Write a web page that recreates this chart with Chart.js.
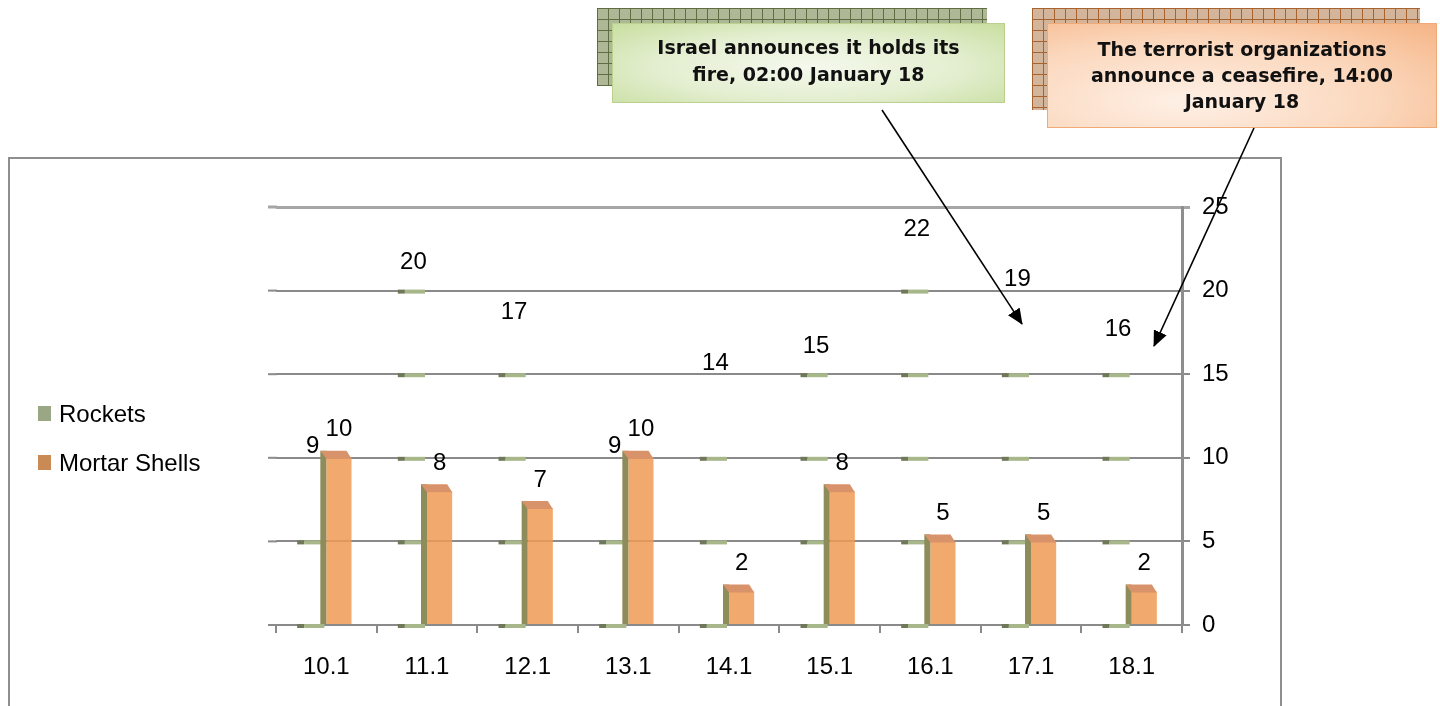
<!DOCTYPE html>
<html>
<head>
<meta charset="utf-8">
<script src="https://cdn.jsdelivr.net/npm/chart.js@4.4.1/dist/chart.umd.min.js"></script>
<style>
body{margin:0;width:1440px;height:706px;overflow:hidden;background:#fff;font-family:"Liberation Sans",Arial,sans-serif;}
#page{position:relative;width:1440px;height:706px;}
#c{position:absolute;left:0;top:0;}
.frame{position:absolute;left:8px;top:157px;width:1274px;height:620px;border:2px solid #8e8e8e;box-sizing:border-box;}
.legend{position:absolute;left:38px;top:389px;font-size:24px;color:#000;}
.legend div{height:49px;display:flex;align-items:center;}
.legend span.sw{display:inline-block;width:13px;height:15px;margin-right:8px;}
.shadow{position:absolute;}
.shadow.g{left:597px;top:8px;width:390px;height:78px;
  background:linear-gradient(#5f6d42 1px,transparent 1px) 0 0/11px 11px,linear-gradient(90deg,#5f6d42 1px,transparent 1px) 0 0/11px 11px,#aeb896;}
.shadow.o{left:1032px;top:8px;width:388px;height:102px;
  background:linear-gradient(#a8622e 1px,transparent 1px) 0 0/11px 11px,linear-gradient(90deg,#a8622e 1px,transparent 1px) 0 0/11px 11px,#d2b59a;}
.note{position:absolute;box-sizing:border-box;display:flex;align-items:center;justify-content:center;text-align:center;
  font-family:"DejaVu Sans",Verdana,sans-serif;font-weight:bold;font-size:19px;line-height:27px;color:#111;}
.note.g{left:612px;top:23px;width:393px;height:80px;border:1px solid #b9d08f;
  background:radial-gradient(ellipse at 50% 55%,#f5f9ee 0%,#e3eecf 55%,#c8de9f 100%);padding-bottom:4px;}
.note.o{left:1047px;top:23px;width:390px;height:105px;border:1px solid #f0aa78;
  background:radial-gradient(ellipse at 35% 75%,#fef0e6 0%,#fbd7bc 55%,#f5b485 100%);padding-bottom:2px;line-height:26px;}
svg{position:absolute;left:0;top:0;}
</style>
</head>
<body>
<div id="page">
  <canvas id="c" width="1440" height="706"></canvas>
  <div class="frame"></div>
  <div class="legend" id="legend"></div>
  <div class="shadow g"></div>
  <div class="note g">Israel announces it holds its<br>fire, 02:00 January 18</div>
  <div class="shadow o"></div>
  <div class="note o">The terrorist organizations<br>announce a ceasefire, 14:00<br>January 18</div>
  <svg width="1440" height="706">
    <defs>
      <marker id="ah" markerWidth="16" markerHeight="14" refX="15" refY="7" orient="auto" markerUnits="userSpaceOnUse" viewBox="0 0 16 14">
        <path d="M0,0 L16,7 L0,14 z" fill="#000"/>
      </marker>
    </defs>
    <line x1="882" y1="110" x2="1022" y2="324" stroke="#000" stroke-width="1.6" marker-end="url(#ah)"/>
    <line x1="1254" y1="128" x2="1154" y2="346" stroke="#000" stroke-width="1.6" marker-end="url(#ah)"/>
  </svg>
</div>
<script>
// data
const days = ['10.1', '11.1', '12.1', '13.1', '14.1', '15.1', '16.1', '17.1', '18.1'];
const rockets = [9, 20, 17, 9, 14, 15, 22, 19, 16];
const mortars = [10, 8, 7, 10, 2, 8, 5, 5, 2];
const yTicks = [0, 5, 10, 15, 20, 25];

const fontTxt = {family: '"Liberation Sans", Arial, sans-serif', size: 24};

// 3d-ish bits: green slivers at gridlines, olive side and cap of the mortar bars
const barDeco = {
    id: 'barDeco',
    beforeDatasetsDraw(chart) {
        // gridlines run a little past the left edge, like the floor of the 3d plot
        let ctx = chart.ctx;
        let y = chart.scales.y;
        let a = chart.chartArea;
        ctx.save();
        yTicks.forEach(function(g){
            let py = y.getPixelForValue(g);
            ctx.strokeStyle = g === 25 ? '#a6a6a6' : '#8a8a8a';
            ctx.lineWidth = g === 25 ? 3 : 2;
            ctx.beginPath();
            ctx.moveTo(a.left - 8, py);
            ctx.lineTo(a.left + 1, py);
            ctx.stroke();
        });
        ctx.restore();
    },
    afterDatasetsDraw(chart) {
        let ctx = chart.ctx;
        let y = chart.scales.y;
        ctx.save();
        chart.getDatasetMeta(0).data.forEach(function(bar, i){
            yTicks.forEach(function(g){
                if (g > rockets[i]) return;
                let py = y.getPixelForValue(g);
                let x0 = bar.x - bar.width / 2 - 4;
                let x1 = bar.x + bar.width / 2 - 2;
                ctx.fillStyle = '#6f7858';
                ctx.fillRect(x0, py - 1, 7, 4);
                ctx.fillStyle = '#a7b78a';
                ctx.fillRect(x0 + 7, py - 1, x1 - x0 - 7, 4);
            });
        });
        chart.getDatasetMeta(1).data.forEach(function(bar){
            let left = bar.x - bar.width / 2;
            ctx.fillStyle = '#8e8c5a';
            ctx.fillRect(left - 6, bar.y - 7, 6, bar.base - bar.y + 7);
            ctx.fillStyle = '#d8936a';
            ctx.beginPath();
            ctx.moveTo(left - 6, bar.y - 7);
            ctx.lineTo(left + bar.width - 5, bar.y - 7);
            ctx.lineTo(left + bar.width, bar.y + 1);
            ctx.lineTo(left, bar.y + 1);
            ctx.closePath();
            ctx.fill();
        });
        ctx.restore();
    },
    afterDraw(chart) {
        let ctx = chart.ctx;
        ctx.save();
        ctx.font = '24px "Liberation Sans", Arial, sans-serif';
        ctx.fillStyle = '#000';
        ctx.textAlign = 'center';
        ctx.textBaseline = 'middle';
        [rockets, mortars].forEach(function(vals, d){
            chart.getDatasetMeta(d).data.forEach(function(bar, i){
                ctx.fillText(String(vals[i]), bar.x + (d === 0 ? -1 : 0), bar.y - 28);
            });
        });
        ctx.restore();
    }
};

let chart = new Chart(document.getElementById('c').getContext('2d'), {
    type: 'bar',
    data: {
        labels: days,
        datasets: [{
            label: 'Rockets',
            data: rockets,
            backgroundColor: 'rgba(0,0,0,0)',
            borderWidth: 0,
            legendColor: '#9aa784'
        }, {
            label: 'Mortar Shells',
            data: mortars,
            backgroundColor: 'rgba(240,154,84,0.85)',
            borderWidth: 0,
            legendColor: '#c98a55'
        }]
    },
    options: {
        responsive: false,
        animation: false,
        events: [],
        layout: {padding: {left: 276, top: 207, right: 198, bottom: 21}},
        categoryPercentage: 0.5,
        barPercentage: 1.0,
        plugins: {legend: {display: false}, tooltip: {enabled: false}},
        scales: {
            x: {
                grid: {drawOnChartArea: false, tickLength: 8, color: '#8a8a8a', lineWidth: 2},
                border: {display: true, color: '#8a8a8a', width: 2},
                ticks: {color: '#000', font: fontTxt, padding: 20, maxRotation: 0},
                afterFit: function(s){ s.height = 60; }
            },
            y: {
                position: 'right',
                min: 0,
                max: 25,
                grid: {
                    tickLength: 8,
                    color: function(c){ return c.tick && c.tick.value === 25 ? '#a6a6a6' : '#8a8a8a'; },
                    lineWidth: function(c){ return c.tick && c.tick.value === 25 ? 3 : 2; }
                },
                border: {display: true, color: '#8e8e8e', width: 3},
                ticks: {stepSize: 5, color: '#000', font: fontTxt, padding: 12},
                afterFit: function(s){ s.width = 60; }
            }
        }
    },
    plugins: [barDeco]
});

// legend from the chart's own datasets
let lg = document.getElementById('legend');
chart.data.datasets.forEach(function(ds){
    let row = document.createElement('div');
    row.innerHTML = '<span class="sw" style="background:' + ds.legendColor + '"></span>' + ds.label;
    lg.appendChild(row);
});
</script>
</body>
</html>
